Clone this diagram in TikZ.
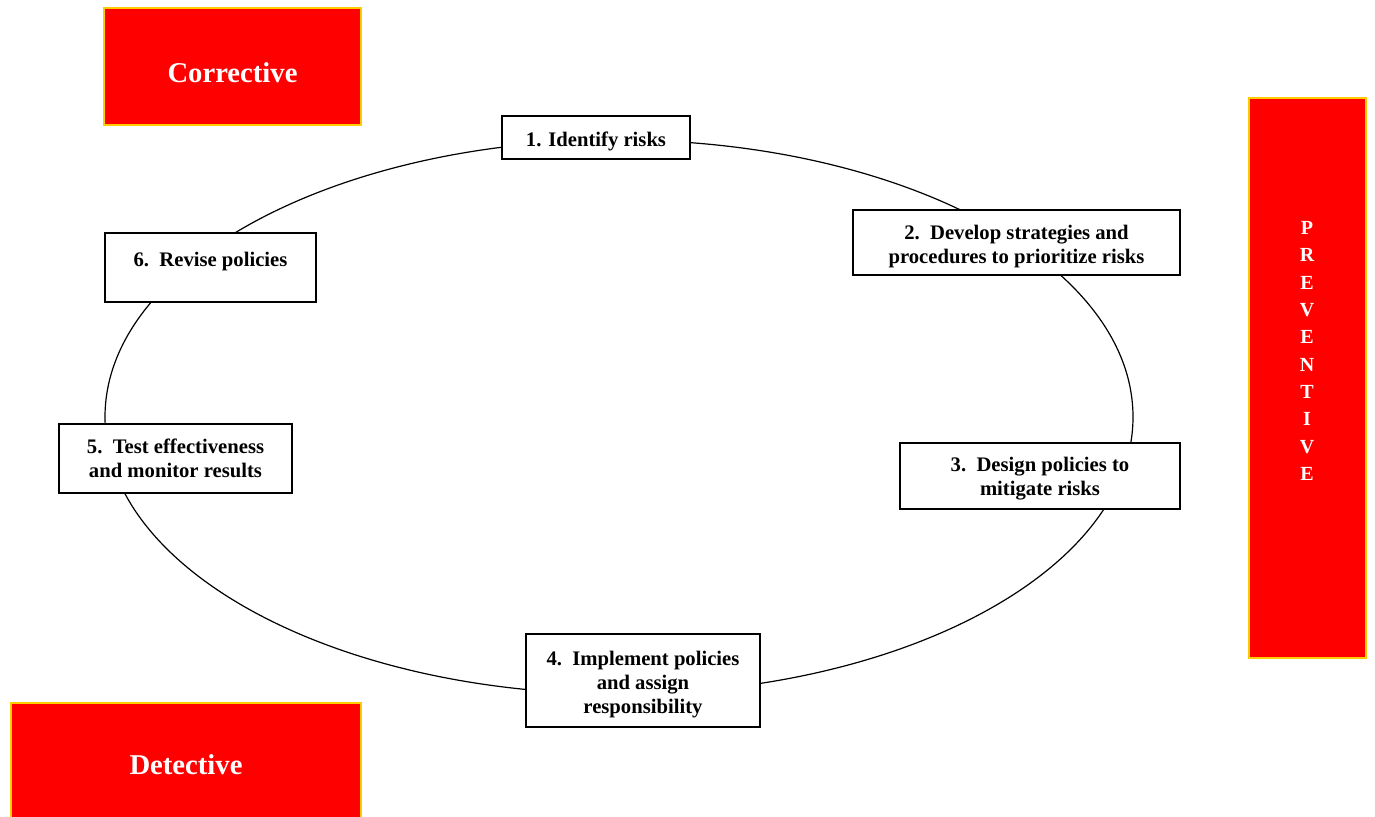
\documentclass[tikz,border=0pt]{standalone}
\usepackage{fontspec}
\setmainfont{Liberation Serif}
\definecolor{alarmred}{HTML}{FF0000}
\definecolor{edgegold}{HTML}{FFCC00}

\begin{document}
\begin{tikzpicture}[
every node/.style={font=\bfseries\fontsize{15.5}{18}\selectfont},
x=0.75pt,
y=-0.75pt,
stage/.style={draw,fill=white,line width=1.1pt,align=center,inner sep=0pt},
control/.style={draw=edgegold,fill=alarmred,line width=1.5pt,text=white,inner sep=0pt,
  font=\bfseries\fontsize{21.5}{24}\selectfont}
]
\useasboundingbox (0,0) rectangle (1375,817);

% the cycle
\draw[line width=0.9pt] (619,417) ellipse [x radius=385.5pt, y radius=207.75pt];

\node[stage,minimum width=141pt,minimum height=32.25pt] (s1) at (596,137.5) {\rule{0pt}{17pt}1. Identify risks};
\node[stage,minimum width=245.25pt,minimum height=48.75pt] (s2) at (1016.5,242.5) {\rule{0pt}{17pt}2.\ \ Develop strategies and\\procedures to prioritize risks};
\node[stage,minimum width=210pt,minimum height=49.5pt] (s3) at (1040,476) {\rule{0pt}{15pt}3.\ \ Design policies to\\mitigate risks};
\node[stage,minimum width=175.5pt,minimum height=69.75pt] (s4) at (643,680.5) {\rule{0pt}{17pt}4.\ \ Implement policies\\and assign\\responsibility};
\node[stage,minimum width=174.75pt,minimum height=51.75pt] (s5) at (175.5,458.5) {5.\ \ Test effectiveness\\and monitor results};
\node[stage,minimum width=158.25pt,minimum height=51.75pt] (s6) at (210.5,267.5) {\rule{0pt}{17pt}6.\ \ Revise policies\\~};

% control types
\node[control,minimum width=192.75pt,minimum height=87.75pt,text height=23.5pt] (corrective) at (232.5,66.5) {Corrective};
\node[control,minimum width=262.5pt,minimum height=93pt] (detective) at (186,765) {Detective};
\node[control,minimum width=87.75pt,minimum height=420pt] (preventive) at (1307.5,378) {};
\node[text=white,align=center,font=\bfseries\fontsize{15}{20.5}\selectfont] (preventivetext) at (1307,351)
  {P\\R\\E\\V\\E\\N\\T\\I\\V\\E};
\end{tikzpicture}
\end{document}
